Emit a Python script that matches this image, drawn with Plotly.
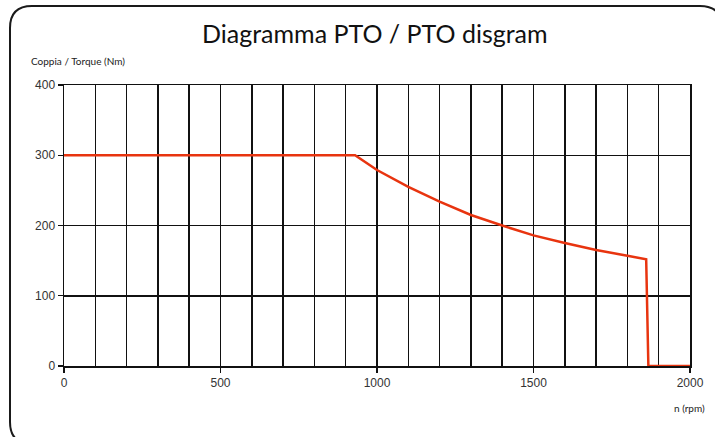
import plotly.graph_objects as go

# Data
rpm = [0, 930, 1000, 1100, 1200, 1300, 1400, 1500, 1600, 1700, 1800, 1860, 1867, 2000]
torque = [300, 300, 279, 255, 234, 215, 200, 186, 175, 165, 157, 152, 0, 0]

x_ticks = [0, 500, 1000, 1500, 2000]
y_ticks = [0, 100, 200, 300, 400]

title_text = "Diagramma PTO / PTO disgram"
y_title = "Coppia / Torque (Nm)"
x_title = "n (rpm)"

W, H = 715, 437
L, R, T, B = 64, 25, 85, 71

fig = go.Figure()
fig.add_trace(go.Scatter(x=rpm, y=torque, mode="lines",
                         line=dict(color="#e8340f", width=2.5),
                         hoverinfo="skip", showlegend=False, cliponaxis=False))

grid_col = "#111111"
tick_font = dict(family="Liberation Sans, Arial, sans-serif", size=12, color="#333333")
fig.update_xaxes(range=[0, 2000], tickvals=x_ticks, ticktext=[str(v) for v in x_ticks],
                 showgrid=True, gridcolor=grid_col, gridwidth=1.5,
                 minor=dict(dtick=100, showgrid=True, gridcolor=grid_col, gridwidth=1.5),
                 ticks="outside", ticklen=5, tickcolor=grid_col, tickwidth=1.2,
                 zeroline=False, showline=True, linecolor=grid_col, linewidth=1.5, mirror=True,
                 fixedrange=True, tickfont=tick_font)
fig.update_yaxes(range=[0, 400], tickvals=y_ticks, ticktext=[str(v) for v in y_ticks],
                 showgrid=True, gridcolor=grid_col, gridwidth=1.5,
                 ticks="outside", ticklen=5, tickcolor=grid_col, tickwidth=1.2,
                 zeroline=False, showline=True, linecolor=grid_col, linewidth=1.5, mirror=True,
                 fixedrange=True, tickfont=tick_font)

def px(xp):
    return (xp - L) / (W - L - R)
def py(yp):
    return (H - B - yp) / (H - T - B)
def conv(p):
    out = []
    for tok in p.split(" "):
        if "," in tok:
            a, b = tok.split(",")
            out.append(f"{px(float(a)):.5f},{py(float(b)):.5f}")
        else:
            out.append(tok)
    return " ".join(out)

# Rounded frame (pixel path converted to paper coords)
x0, y0, x1, y1, r = 10, 6, 722, 444, 22
path = (f"M {x0+r},{y0} L {x1-r},{y0} Q {x1},{y0} {x1},{y0+r} "
        f"L {x1},{y1-r} Q {x1},{y1} {x1-r},{y1} L {x0+r},{y1} "
        f"Q {x0},{y1} {x0},{y1-r} L {x0},{y0+r} Q {x0},{y0} {x0+r},{y0} Z")
fig.add_shape(type="path", path=conv(path), xref="paper", yref="paper",
              line=dict(color="#1a1a1a", width=2), layer="below")

fig.add_annotation(text=title_text, x=px(375), y=py(33), xref="paper", yref="paper",
                   showarrow=False, xanchor="center", yanchor="middle",
                   font=dict(family="Lato, Noto Sans, sans-serif", size=25, color="#111111"))
fig.add_annotation(text=y_title, x=px(29), y=py(61), xref="paper", yref="paper",
                   showarrow=False, xanchor="left", yanchor="middle",
                   font=dict(family="Lato, Noto Sans, sans-serif", size=10, color="#222222"))
fig.add_annotation(text=x_title, x=px(707), y=py(408), xref="paper", yref="paper",
                   showarrow=False, xanchor="right", yanchor="middle",
                   font=dict(family="Lato, Noto Sans, sans-serif", size=10, color="#222222"))

fig.update_layout(width=W, height=H, margin=dict(l=L, r=R, t=T, b=B),
                  paper_bgcolor="white", plot_bgcolor="white", showlegend=False)

fig.write_html("out.html", post_script="document.body.style.margin='0';",
               config={"displayModeBar": False, "staticPlot": True})
